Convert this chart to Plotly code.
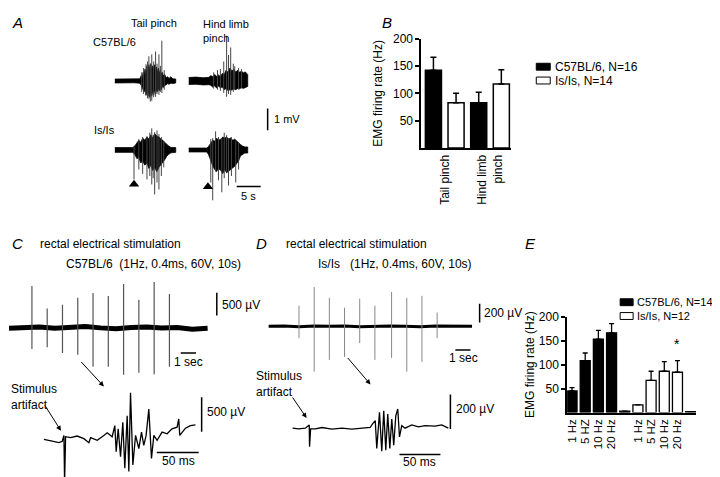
import plotly.graph_objects as go

W, H = 720, 477
FONT = "Liberation Sans, Arial, sans-serif"

# ---------------- Panel B data (EMG firing rate, Hz) ----------------
b_group_labels = ["Tail pinch", "Hind limb<br>pinch"]
b_group_pos = [0.5, 2.5]
b_c57_x = [0, 2]
b_c57 = [142, 83]
b_c57_err = [24, 19]
b_isis_x = [1, 3]
b_isis = [83, 117]
b_isis_err = [17, 26]
b_ticks = [50, 100, 150, 200]

# ---------------- Panel E data ----------------
e_freq_labels = ["1 Hz", "5 HZ", "10 Hz", "20 Hz"]
e_c57_x = [0, 1, 2, 3, 4]
e_c57 = [45, 108, 153, 166, 3]
e_c57_err = [7, 16, 18, 19, 0]
e_isis_x = [5, 6, 7, 8, 9]
e_isis = [16, 67, 86, 84, 2]
e_isis_err = [0, 19, 20, 24, 0]
e_label_pos = [0, 1, 2, 3, 5, 6, 7, 8]
e_sig_x = [8]
e_sig_y = [122]
e_ticks = [50, 100, 150, 200]

# ---------------- Panel A traces (time s, amplitude mV) ----------------
# C57BL/6 tail pinch
a1_t = [0, 2.0, 4.0, 5.2, 5.5, 5.7, 5.9, 6.1, 6.3, 6.5, 6.7, 6.9, 7.1, 7.3, 7.5, 7.7, 7.9, 8.1,
        8.3, 8.5, 8.7, 8.9, 9.1, 9.3, 9.5, 9.7, 9.9, 10.1, 10.4, 10.7, 11.0, 11.3, 11.7, 12.1, 12.7]
a1_up = [0.09, 0.1, 0.08, 0.1, 0.25, 0.15, 0.4, 0.3, 0.55, 0.35, 0.7, 0.45, 0.75, 0.5, 0.8, 0.55,
         0.7, 0.5, 0.75, 0.45, 0.65, 0.4, 0.6, 0.35, 0.5, 0.3, 0.4, 0.25, 0.3, 0.15, 0.2, 0.12,
         0.2, 0.1, 0.09]
a1_lo = [0.09, 0.1, 0.08, 0.1, 0.2, 0.3, 0.35, 0.5, 0.4, 0.65, 0.5, 0.7, 0.55, 0.75, 0.5, 0.7,
         0.45, 0.65, 0.4, 0.6, 0.4, 0.5, 0.35, 0.45, 0.3, 0.4, 0.25, 0.3, 0.2, 0.18, 0.12, 0.15,
         0.1, 0.12, 0.09]
a1_spk_t = [5.6, 6.0, 6.5, 6.8, 7.1, 7.4, 7.7, 8.1, 8.5, 8.8, 9.2, 9.5, 9.8, 10.3]
a1_spk_up = [0.4, 0.6, 0.77, 0.9, 1.14, 0.8, 1.23, 0.9, 1.36, 0.8, 1.23, 0.7, 1.86, 0.5]
a1_spk_dn = [0.5, 0.6, 0.68, 0.8, 0.82, 0.95, 0.91, 0.75, 0.73, 0.6, 0.64, 0.5, 0.55, 0.4]

# C57BL/6 hind limb pinch
a2_t = [0, 1.5, 3.0, 4.2, 4.6, 5.0, 5.4, 5.8, 6.2, 6.6, 7.0, 7.4, 7.8, 8.2, 8.6, 9.0, 9.4, 9.8,
        10.2, 10.6, 11.0, 11.4, 11.8, 12.3]
a2_up = [0.16, 0.18, 0.15, 0.17, 0.25, 0.2, 0.3, 0.22, 0.28, 0.2, 0.35, 0.3, 0.5, 0.4, 0.6, 0.45,
         0.55, 0.4, 0.5, 0.4, 0.45, 0.38, 0.42, 0.3]
a2_lo = [0.16, 0.15, 0.18, 0.17, 0.2, 0.28, 0.22, 0.32, 0.24, 0.3, 0.28, 0.4, 0.35, 0.45, 0.4,
         0.42, 0.36, 0.4, 0.34, 0.36, 0.3, 0.34, 0.3, 0.25]
a2_spk_t = [5.2, 6.0, 6.6, 7.3, 7.9, 8.3, 8.75, 9.3, 9.6, 10.4, 11.0]
a2_spk_up = [0.4, 0.5, 0.55, 0.9, 2.09, 1.2, 1.55, 0.8, 0.68, 0.6, 0.55]
a2_spk_dn = [0.35, 0.4, 0.45, 0.55, 0.73, 0.6, 0.64, 0.5, 0.36, 0.4, 0.35]

# Is/Is tail pinch
a3_t = [0, 2.0, 3.75, 4.2, 4.6, 5.0, 5.4, 5.8, 6.25, 6.7, 7.1, 7.5, 7.9, 8.3, 8.75, 9.2, 9.6,
        10.0, 10.4, 10.8, 11.25, 11.7, 12.1, 12.7]
a3_up = [0.11, 0.12, 0.11, 0.2, 0.3, 0.45, 0.35, 0.55, 0.45, 0.6, 0.5, 0.7, 0.55, 0.75, 0.65,
         0.6, 0.5, 0.45, 0.35, 0.25, 0.18, 0.12, 0.11, 0.11]
a3_lo = [0.11, 0.12, 0.11, 0.22, 0.4, 0.35, 0.6, 0.5, 0.7, 0.6, 0.85, 0.7, 0.95, 0.8, 1.0, 0.8,
         0.7, 0.55, 0.45, 0.3, 0.2, 0.13, 0.11, 0.11]
a3_spk_t = [4.0, 5.0, 5.8, 6.7, 7.3, 7.7, 8.0, 8.3, 8.8, 9.2, 9.7, 10.2]
a3_spk_up = [0.14, 0.5, 0.6, 0.64, 0.8, 1.0, 0.7, 0.82, 0.9, 0.73, 0.6, 0.4]
a3_spk_dn = [1.36, 0.9, 1.1, 1.36, 1.2, 1.59, 1.3, 2.05, 1.5, 1.82, 1.2, 0.8]

# Is/Is hind limb pinch
a4_t = [0, 2.0, 3.75, 4.1, 4.4, 4.7, 5.0, 5.4, 5.8, 6.2, 6.7, 7.1, 7.5, 7.9, 8.3, 8.7, 9.2, 9.6,
        10.0, 10.4, 10.8, 11.2, 11.7, 12.3]
a4_up = [0.09, 0.1, 0.09, 0.15, 0.25, 0.35, 0.45, 0.4, 0.55, 0.45, 0.5, 0.6, 0.55, 0.6, 0.5,
         0.55, 0.45, 0.5, 0.4, 0.35, 0.25, 0.18, 0.14, 0.14]
a4_lo = [0.09, 0.1, 0.09, 0.2, 0.36, 0.55, 0.73, 0.9, 1.0, 0.85, 0.95, 1.09, 0.9, 1.05, 1.0, 0.9,
         0.82, 0.75, 0.64, 0.5, 0.27, 0.2, 0.14, 0.14]
a4_spk_t = [4.6, 5.0, 5.6, 6.2, 6.9, 7.4, 7.9, 8.3, 8.9, 9.8, 10.4]
a4_spk_up = [0.5, 0.55, 0.86, 0.6, 0.55, 0.8, 0.68, 0.55, 0.6, 0.41, 0.35]
a4_spk_dn = [1.5, 2.32, 1.0, 1.4, 1.95, 1.3, 1.0, 1.64, 1.2, 1.5, 0.9]

a_onset_t = [4.0, 4.0]

# ---------------- Panel C / D stimulation traces ----------------
c_base_t = [0, 1, 2, 3, 4, 5, 6, 7, 8, 9, 10, 11, 12, 13]
c_base_uv = [0, 10, 30, 0, 20, 40, 10, -10, 20, 30, 10, 20, -20, 0]
c_spk_t = [1.5, 2.5, 3.5, 4.5, 5.5, 6.5, 7.5, 8.5, 9.5, 10.5]
c_spk_up = [935, 435, 520, 675, 780, 715, 980, 630, 1020, 760]
c_spk_dn = [455, 415, 545, 585, 850, 850, 1065, 980, 1020, 850]

c_ms = [0, 9.9, 17.9, 21.8, 23.8, 24.6, 25.8, 31.8, 39.6, 47.6, 53.6, 55.6, 63.5, 71.4,
        75.4, 81.3, 84.5, 86.1, 88.5, 91.3, 94.0, 96.4, 99.2, 101.2, 103.2, 106.0, 109.2,
        113.1, 116.3, 119.0, 121.8, 125.0, 128.2, 131.0, 134.9, 140.8, 146.8, 152.7, 158.7,
        160.7, 161.9, 168.7, 174.6, 180.6]
c_uv = [19, -10, -29, -10, 76, -614, 57, 43, 67, 29, -29, 43, 4, 76,
        114, 57, 219, -161, 171, -233, 267, -400, 362, -447, 696, -353, 76,
        -114, 124, -67, 76, 457, -257, 76, 4, 124, 100, 171, 196,
        314, 76, 181, 219, 229]

d_base_t = [0, 1, 2, 3, 4, 5, 6, 7, 8, 9, 10, 11, 12, 13.4]
d_base_uv = [0, 5, -5, 5, 0, 5, -5, 0, 5, 0, -5, 5, 0, 0]
d_spk_t = [2.0, 3.0, 4.0, 5.0, 6.0, 7.0, 8.1, 9.1, 10.1, 11.1]
d_spk_up = [221, 421, 305, 200, 295, 221, 368, 305, 326, 147]
d_spk_dn = [126, 484, 358, 326, 179, 358, 337, 484, 379, 126]

d_ms = [0, 7.3, 15.5, 19.5, 20.3, 20.7, 22.0, 27.7, 35.8, 48.0, 60.2, 72.4, 84.6, 94.8,
        97.6, 100.9, 102.8, 106.1, 108.9, 111.3, 113.8, 116.2, 118.7, 121.1, 123.5, 126.0,
        128.4, 130.5, 133.3, 137.4, 145.5, 153.7, 161.8, 174.0, 182.1, 190.2]
d_uv = [-2, -6, -2, 10, 17, -110, -6, -6, 2, -7, -2, -7, -2, 2,
        23, 42, -120, 90, -135, 99, -129, 80, -120, 51, -101, 70,
        109, -53, 13, -2, 17, 6, 13, 10, 17, -2]


# ---------------- helpers (layout only) ----------------
def dom_x(a, b):
    return [a / W, b / W]


def dom_y(top, bot):
    return [1 - bot / H, 1 - top / H]


fig = go.Figure()
layout = {}
annotations = []
shapes = []


def trace_axes(n, box, xo, sx, yb, sy):
    x0, x1, yt, ybm = box
    layout[f"xaxis{n}"] = dict(domain=dom_x(x0, x1), range=[(x0 - xo) / sx, (x1 - xo) / sx],
                               visible=False, anchor=f"y{n}", fixedrange=True)
    layout[f"yaxis{n}"] = dict(domain=dom_y(yt, ybm), range=[(yb - ybm) / sy, (yb - yt) / sy],
                               visible=False, anchor=f"x{n}", fixedrange=True)


def envelope(n, t, up, lo):
    xs = list(t) + list(t)[::-1]
    ys = list(up) + [-v for v in lo][::-1]
    fig.add_trace(go.Scatter(x=xs, y=ys, fill="toself", fillcolor="black", mode="lines",
                             line=dict(color="black", width=0.8), xaxis=f"x{n}", yaxis=f"y{n}",
                             showlegend=False, hoverinfo="skip"))


def spikes(n, t, up, dn, color="#555", width=1.0):
    xs, ys = [], []
    for ti, u, d in zip(t, up, dn):
        xs += [ti, ti, None]
        ys += [u, -d, None]
    fig.add_trace(go.Scatter(x=xs, y=ys, mode="lines", line=dict(color=color, width=width),
                             xaxis=f"x{n}", yaxis=f"y{n}", showlegend=False, hoverinfo="skip"))


def line(n, x, y, width=1.3, color="black"):
    fig.add_trace(go.Scatter(x=x, y=y, mode="lines", line=dict(color=color, width=width),
                             xaxis=f"x{n}", yaxis=f"y{n}", showlegend=False, hoverinfo="skip"))


def txt(s, x, y, size=12, xanchor="left"):
    annotations.append(dict(text=s, x=x / W, y=1 - y / H, xref="paper", yref="paper",
                            xanchor=xanchor, yanchor="middle", showarrow=False,
                            font=dict(size=size, family=FONT, color="black")))


def arrow(hx, hy, tx, ty):
    annotations.append(dict(text="", x=hx / W, y=1 - hy / H, xref="paper", yref="paper",
                            ax=tx - hx, ay=ty - hy, showarrow=True, arrowhead=2, arrowsize=1,
                            arrowwidth=1, arrowcolor="black"))


def legend_box(x0, x1, y0, y1, fill):
    shapes.append(dict(type="rect", xref="paper", yref="paper", x0=x0 / W, x1=x1 / W,
                       y0=1 - y1 / H, y1=1 - y0 / H, fillcolor=fill,
                       line=dict(color="black", width=1)))


# ---------------- Panel B ----------------
fig.add_trace(go.Bar(x=b_c57_x, y=b_c57, width=0.71, name="C57BL/6, N=16",
                     marker=dict(color="black", line=dict(color="black", width=1.5)),
                     error_y=dict(type="data", array=b_c57_err, arrayminus=[0] * len(b_c57),
                                  symmetric=False, color="black", thickness=1.5, width=3),
                     xaxis="x", yaxis="y", showlegend=False))
fig.add_trace(go.Bar(x=b_isis_x, y=b_isis, width=0.71, name="Is/Is, N=14",
                     marker=dict(color="white", line=dict(color="black", width=1.5)),
                     error_y=dict(type="data", array=b_isis_err, arrayminus=[0] * len(b_isis),
                                  symmetric=False, color="black", thickness=1.5, width=3),
                     xaxis="x", yaxis="y", showlegend=False))
layout["xaxis"] = dict(domain=dom_x(413, 503), range=[-0.53, 3.44], showline=True,
                       linecolor="black", linewidth=2, ticks="", tickvals=b_group_pos,
                       ticktext=b_group_labels, tickangle=-90, showgrid=False, zeroline=False,
                       tickfont=dict(size=12, family=FONT, color="black"), anchor="y",
                       fixedrange=True)
layout["yaxis"] = dict(domain=dom_y(24, 135), range=[0, 200], showline=True, linecolor="black",
                       linewidth=2, ticks="outside", ticklen=4, tickwidth=1.5, tickcolor="black",
                       tickvals=b_ticks, showgrid=False, zeroline=False,
                       tickfont=dict(size=12, family=FONT, color="black"),
                       title=dict(text="EMG firing rate (Hz)", standoff=8,
                                  font=dict(size=12, family=FONT, color="black")),
                       anchor="x", fixedrange=True)

# ---------------- Panel E ----------------
fig.add_trace(go.Bar(x=e_c57_x, y=e_c57, width=0.76, name="C57BL/6, N=14",
                     marker=dict(color="black", line=dict(color="black", width=1.3)),
                     error_y=dict(type="data", array=e_c57_err, arrayminus=[0] * len(e_c57),
                                  symmetric=False, color="black", thickness=1.3, width=2.5),
                     xaxis="x2", yaxis="y2", showlegend=False))
fig.add_trace(go.Bar(x=e_isis_x, y=e_isis, width=0.76, name="Is/Is, N=12",
                     marker=dict(color="white", line=dict(color="black", width=1.3)),
                     error_y=dict(type="data", array=e_isis_err, arrayminus=[0] * len(e_isis),
                                  symmetric=False, color="black", thickness=1.3, width=2.5),
                     xaxis="x2", yaxis="y2", showlegend=False))
layout["xaxis2"] = dict(domain=dom_x(559, 688), range=[-0.364, 9.41], showline=True,
                        linecolor="black", linewidth=2, ticks="", tickvals=e_label_pos,
                        ticktext=e_freq_labels * 2, tickangle=-90, showgrid=False,
                        zeroline=False, tickfont=dict(size=11.5, family=FONT, color="black"),
                        anchor="y2", fixedrange=True)
layout["yaxis2"] = dict(domain=dom_y(306, 403.5), range=[0, 200], showline=True,
                        linecolor="black", linewidth=2, ticks="outside", ticklen=4,
                        tickwidth=1.5, tickcolor="black", tickvals=e_ticks, showgrid=False,
                        zeroline=False, tickfont=dict(size=12, family=FONT, color="black"),
                        title=dict(text="EMG firing rate (Hz)", standoff=2,
                                   font=dict(size=12, family=FONT, color="black")),
                        anchor="x2", fixedrange=True)
for sx_, sy_ in zip(e_sig_x, e_sig_y):
    annotations.append(dict(text="*", x=sx_, y=sy_, xref="x2", yref="y2", showarrow=False,
                            yanchor="bottom", font=dict(size=14, family=FONT, color="black")))

# ---------------- Panel A traces ----------------
A_SX, A_SY = 4.8, 22.0   # px per s, px per mV
trace_axes(3, (100, 176, 12, 100), 106, A_SX, 67, A_SY)
trace_axes(4, (176, 250, 12, 100), 180, A_SX, 67, A_SY)
trace_axes(5, (100, 176, 100, 200), 106, A_SX, 137, A_SY)
trace_axes(6, (176, 270, 88, 200), 180, A_SX, 137, A_SY)

envelope(3, a1_t, a1_up, a1_lo)
spikes(3, a1_spk_t, a1_spk_up, a1_spk_dn, color="#444", width=1)
envelope(4, a2_t, a2_up, a2_lo)
spikes(4, a2_spk_t, a2_spk_up, a2_spk_dn, color="#444", width=1)
envelope(5, a3_t, a3_up, a3_lo)
spikes(5, a3_spk_t, a3_spk_up, a3_spk_dn, color="#444", width=1)
envelope(6, a4_t, a4_up, a4_lo)
spikes(6, a4_spk_t, a4_spk_up, a4_spk_dn, color="#444", width=1)

# pinch onset markers
fig.add_trace(go.Scatter(x=[a_onset_t[0]], y=[-1.58], mode="markers", xaxis="x5", yaxis="y5",
                         marker=dict(symbol="triangle-up", size=9, color="black"),
                         showlegend=False, hoverinfo="skip"))
fig.add_trace(go.Scatter(x=[a_onset_t[1]], y=[-1.70], mode="markers", xaxis="x6", yaxis="y6",
                         marker=dict(symbol="triangle-up", size=9, color="black"),
                         showlegend=False, hoverinfo="skip"))
# scale bars A: 1 mV and 5 s
line(6, [16.46, 16.46], [0.91, 0.91 + 1.0], width=1.5)
line(6, [10.0, 10.0 + 5.0], [-1.68, -1.68], width=1.5)

# ---------------- Panel C traces ----------------
trace_axes(7, (0, 250, 262, 365), 0, 15.3, 318, 0.046)       # s, µV
trace_axes(8, (30, 200, 380, 477), 35, 0.84, 432, 0.07)      # ms, µV
line(7, c_base_t, c_base_uv, width=5)
spikes(7, c_spk_t, c_spk_up, c_spk_dn, color="#555", width=1.2)
line(7, [13.6, 13.6], [283, 283 + 500], width=1.5)
line(7, [11.24, 11.24 + 1.0], [-543, -543], width=1.5)
line(8, c_ms, c_uv, width=1.3)
line(8, [188, 188], [129, 129 + 500], width=1.5)
line(8, [134.5, 134.5 + 50], [-171, -171], width=1.5)

# ---------------- Panel D traces ----------------
trace_axes(9, (255, 480, 262, 365), 260, 15.2, 316, 0.095)
trace_axes(10, (280, 450, 380, 470), 284, 0.82, 419, 0.175)
line(9, d_base_t, d_base_uv, width=3)
spikes(9, d_spk_t, d_spk_up, d_spk_dn, color="#888", width=1.0)
line(9, [13.9, 13.9], [42, 42 + 200], width=1.5)
line(9, [12.3, 12.3 + 1.0], [-253, -253], width=1.5)
line(10, d_ms, d_uv, width=1.3)
line(10, [192.7, 192.7], [-6, -6 + 200], width=1.5)
line(10, [130.5, 130.5 + 50], [-154, -154], width=1.5)

# ---------------- Text ----------------
txt("<i>A</i>", 1, 8, size=15)
txt("Tail pinch", 145, 8, size=11, xanchor="center")
annotations.append(dict(text="Hind limb<br>pinch", x=192 / W, y=1 - 1 / H, xref="paper",
                        yref="paper", xanchor="left", yanchor="top", align="left",
                        showarrow=False, font=dict(size=11, family=FONT, color="black")))
txt("C57BL/6", 82, 27, size=11)
txt("Is/Is", 83, 117, size=11)
txt("1 mV", 263, 106, size=11)
txt("5 s", 240, 184, size=11, xanchor="center")
txt("<i>B</i>", 372, 8, size=15)

txt("<i>C</i>", 1, 232, size=15)
txt("rectal electrical stimulation", 29, 232)
txt("C57BL/6\u00a0 (1Hz, 0.4ms, 60V, 10s)", 55, 253)
txt("500 µV", 211, 294)
txt("1 sec", 180, 352, xanchor="center")
annotations.append(dict(text="Stimulus<br>artifact", x=0, y=1 - 370 / H, xref="paper",
                        yref="paper", xanchor="left", yanchor="top", align="left",
                        showarrow=False, font=dict(size=12, family=FONT, color="black")))
txt("500 µV", 196, 403)
txt("50 ms", 170, 453, xanchor="center")
arrow(95, 377, 71, 351)
arrow(52, 422, 35, 395)

txt("<i>D</i>", 245, 232, size=15)
txt("rectal electrical stimulation", 275, 232)
txt("Is/Is\u00a0\u00a0 (1Hz, 0.4ms, 60V, 10s)", 307, 253)
txt("200 µV", 474, 302)
txt("1 sec", 455, 348, xanchor="center")
annotations.append(dict(text="Stimulus<br>artifact", x=245 / W, y=1 - 357 / H, xref="paper",
                        yref="paper", xanchor="left", yanchor="top", align="left",
                        showarrow=False, font=dict(size=12, family=FONT, color="black")))
txt("200 µV", 446, 400)
txt("50 ms", 411, 454, xanchor="center")
arrow(362, 375, 338, 347)
arrow(298, 409, 283, 387)

txt("<i>E</i>", 515, 232, size=15)

# legends (drawn)
legend_box(528, 542, 49, 56, "black")
txt("C57BL/6, N=16", 545, 52.5)
legend_box(528, 542, 63, 70, "white")
txt("Is/Is, N=14", 545, 66.5)
legend_box(612, 625, 288, 295, "black")
txt("C57BL/6, N=14", 627, 291.5, size=11)
legend_box(612, 625, 302, 309, "white")
txt("Is/Is, N=12", 627, 305.5, size=11)

fig.update_layout(width=W, height=H, margin=dict(l=0, r=0, t=0, b=0),
                  paper_bgcolor="white", plot_bgcolor="rgba(0,0,0,0)", barmode="overlay",
                  showlegend=False, annotations=annotations, shapes=shapes,
                  font=dict(family=FONT, color="black"), **layout)

fig.write_html("out.html")
